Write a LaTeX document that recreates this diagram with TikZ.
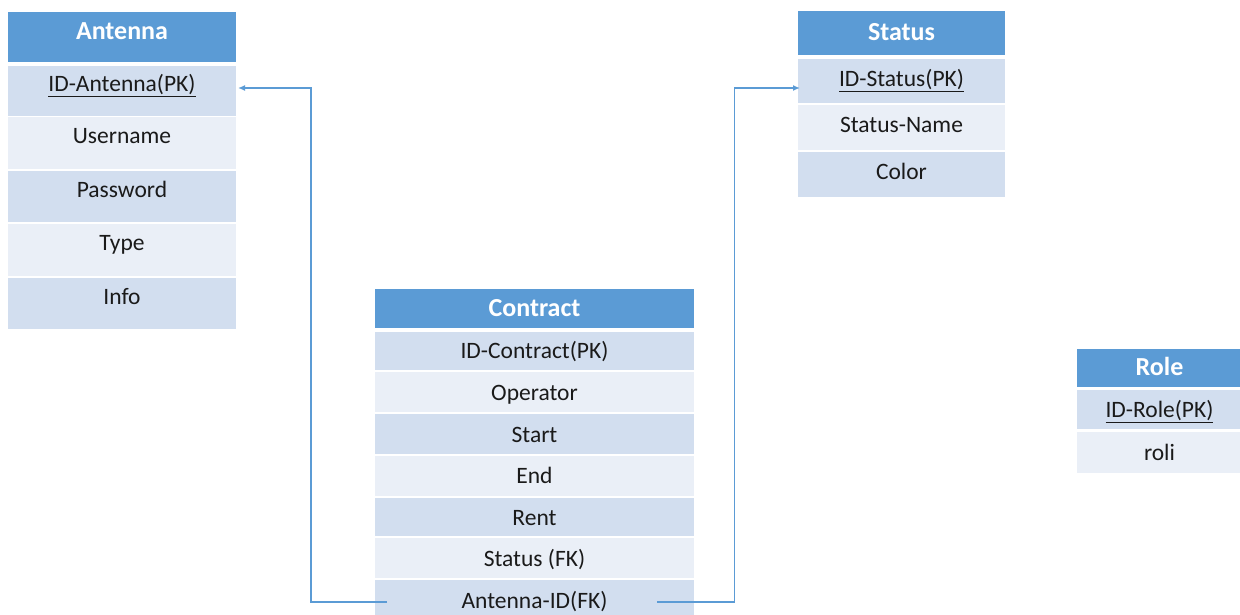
\documentclass[tikz,border=0pt]{standalone}
\usepackage{fontspec}
\setmainfont{Carlito}
\usetikzlibrary{arrows.meta}
\definecolor{hblue}{HTML}{5B9BD5}
\definecolor{rowdark}{HTML}{D2DEEF}
\definecolor{rowlight}{HTML}{EAEFF7}
\definecolor{txt}{HTML}{1A1A1A}
\tikzset{
  cell/.style={anchor=north west, inner sep=0pt, outer sep=0pt, draw=none, text=txt, font=\fontsize{23.5}{28}\selectfont},
  hdr/.style={cell, fill=hblue, text=white, font=\fontsize{26}{30}\selectfont\bfseries},
  dark/.style={cell, fill=rowdark},
  light/.style={cell, fill=rowlight},
  wA/.style={minimum width=228pt},
  wS/.style={minimum width=207pt},
  wC/.style={minimum width=319pt},
  wR/.style={minimum width=165pt},
  tAh/.style={text height=12pt, text depth=7pt},
  tA/.style={text height=9pt, text depth=8pt},
  tSh/.style={text height=16pt, text depth=2pt},
  tS/.style={text height=16pt, text depth=6pt},
  tC/.style={text height=16pt, text depth=0pt},
  conn/.style={draw=hblue, line width=1.4pt, -{Latex[length=7pt,width=6pt]}}
}
\begin{document}
\begin{tikzpicture}[x=1pt,y=-1pt]
\useasboundingbox (0,0) rectangle (1240,615);
% Antenna
\node[hdr,wA,tAh,minimum height=50pt] (ah) at (8,12) {Antenna};
\node[dark,wA,tA,minimum height=50pt] (a1) at (8,66) {\underline{ID-Antenna(PK)}};
\node[light,wA,tA,minimum height=52pt] (a2) at (8,117.5) {Username};
\node[dark,wA,tA,minimum height=51pt] (a3) at (8,171) {Password};
\node[light,wA,tA,minimum height=52.5pt] (a4) at (8,223.5) {Type};
\node[dark,wA,tA,minimum height=51pt] (a5) at (8,278) {Info};
% Status
\node[hdr,wS,tSh,minimum height=43.5pt] (sh) at (798,11.5) {Status};
\node[dark,wS,tS,minimum height=44pt] (s1) at (798,59.3) {\underline{ID-Status(PK)}};
\node[light,wS,tS,minimum height=45pt] (s2) at (798,105.3) {Status-Name};
\node[dark,wS,tS,minimum height=44.5pt] (s3) at (798,152.3) {Color};
% Contract
\node[hdr,wC,tC,minimum height=38.5pt] (ch) at (375,289.3) {Contract};
\node[dark,wC,tC,minimum height=38.5pt] (c1) at (375,331.7) {ID-Contract(PK)};
\node[light,wC,tC,minimum height=40pt] (c2) at (375,372.2) {Operator};
\node[dark,wC,tC,minimum height=39.7pt] (c3) at (375,414.3) {Start};
\node[light,wC,tC,minimum height=40.3pt] (c4) at (375,455.7) {End};
\node[dark,wC,tC,minimum height=38pt] (c5) at (375,498.2) {Rent};
\node[light,wC,tC,minimum height=39.5pt] (c6) at (375,538.3) {Status (FK)};
\node[dark,wC,tC,minimum height=41pt] (c7) at (375,580) {Antenna-ID(FK)};
% Role
\node[hdr,wR,tC,minimum height=37.7pt] (rh) at (1077,349) {Role};
\node[dark,wR,tC,minimum height=39.3pt] (r1) at (1077,390) {\underline{ID-Role(PK)}};
\node[light,wR,tC,minimum height=41pt] (r2) at (1077,431.7) {roli};
% connectors
\coordinate (lj) at (311,0);
\coordinate (rj) at (734.5,0);
\coordinate (lstart) at ([shift={(12,1.5)}]c7.west);
\coordinate (rstart) at ([shift={(-37,1.5)}]c7.east);
\coordinate (ain) at ([shift={(2,-3)}]a1.east);
\coordinate (sin) at ([shift={(2,6.7)}]s1.west);
\draw[conn] (lstart) -| (lj |- ain) -- (ain);
\draw[conn] (rstart) -| (rj |- sin) -- (sin);
\end{tikzpicture}
\end{document}
